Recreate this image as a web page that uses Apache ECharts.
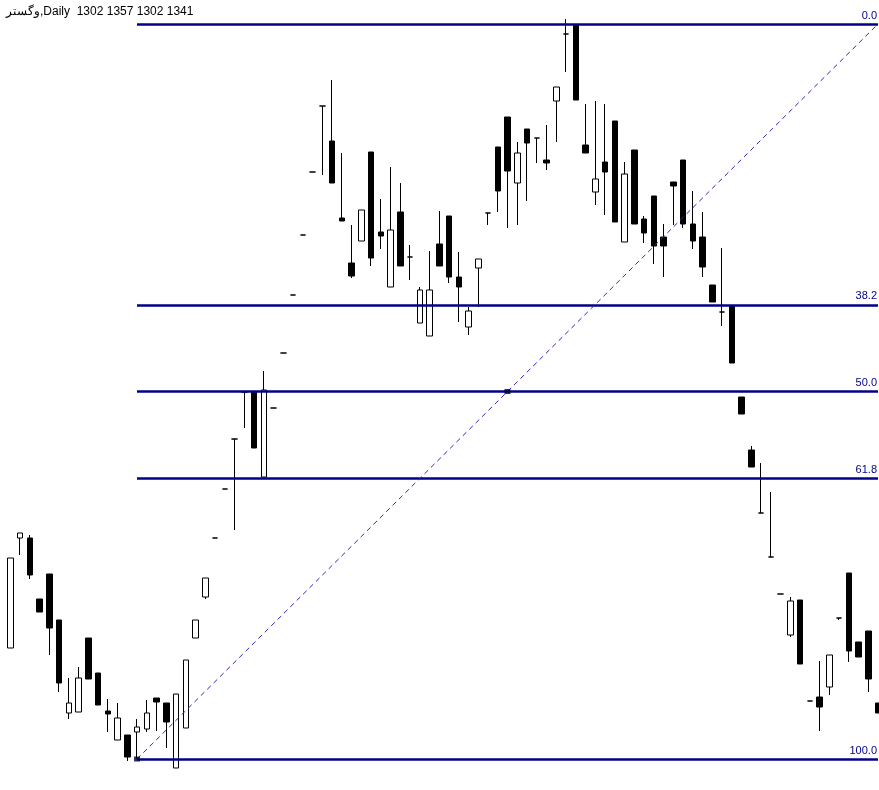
<!DOCTYPE html>
<html>
<head>
<meta charset="utf-8">
<script src="https://cdn.jsdelivr.net/npm/echarts@6/dist/echarts.min.js"></script>
<style>
  html, body { margin: 0; padding: 0; background: #fff; }
  #main { width: 879px; height: 790px; }
</style>
</head>
<body>
<div id="main"></div>
<script>
// daily bars
var open = [1111, 1221, 1221, 1160, 1185, 1139, 1046, 1047, 1121, 1086,
    1048, 1019, 1024, 1027, 1030, 1061, 1056, 991, 1031, 1121,
    1162, 1221, 1270, 1320, 1367, 1367, 1282, 1351, 1406, 1464,
    1524, 1587, 1653, 1618, 1541, 1496, 1518, 1607, 1527, 1472,
    1547, 1502, 1436, 1423, 1515, 1543, 1482, 1432, 1491, 1546,
    1612, 1642, 1576, 1630, 1621, 1599, 1658, 1725, 1734, 1614,
    1567, 1597, 1638, 1517, 1609, 1540, 1563, 1522, 1577, 1599,
    1535, 1522, 1474, 1447, 1453, 1362, 1309, 1246, 1202, 1165,
    1124, 1159, 1058, 1062, 1072, 1141, 1186, 1117, 1128, 1056];
var close = [1201, 1226, 1184, 1147, 1131, 1076, 1056, 1081, 1080, 1054,
    1045, 1041, 1002, 1032, 1046, 1057, 1037, 1065, 1099, 1139,
    1181, 1221, 1270, 1320, 1367, 1311, 1369, 1351, 1406, 1464,
    1524, 1587, 1653, 1576, 1538, 1483, 1549, 1501, 1523, 1529,
    1493, 1502, 1469, 1469, 1493, 1482, 1472, 1448, 1500, 1546,
    1568, 1588, 1606, 1616, 1621, 1596, 1672, 1725, 1659, 1606,
    1580, 1587, 1537, 1585, 1535, 1526, 1513, 1513, 1573, 1535,
    1518, 1492, 1457, 1447, 1396, 1345, 1292, 1246, 1202, 1165,
    1158, 1095, 1058, 1052, 1104, 1141, 1108, 1102, 1080, 1046];
var low = [1111, 1204, 1180, 1147, 1104, 1067, 1040, 1047, 1080, 1054,
    1027, 1019, 998, 1000, 1027, 1028, 1011, 991, 1031, 1121,
    1160, 1221, 1270, 1229, 1331, 1311, 1282, 1351, 1406, 1464,
    1524, 1587, 1584, 1576, 1538, 1481, 1518, 1493, 1510, 1472,
    1493, 1479, 1436, 1423, 1493, 1476, 1437, 1424, 1452, 1534,
    1547, 1531, 1534, 1558, 1596, 1589, 1617, 1687, 1659, 1606,
    1554, 1544, 1537, 1517, 1535, 1516, 1495, 1482, 1534, 1531,
    1510, 1482, 1457, 1433, 1396, 1345, 1292, 1246, 1202, 1165,
    1122, 1095, 1058, 1028, 1064, 1139, 1097, 1102, 1067, 1046];
var high = [1201, 1226, 1224, 1160, 1185, 1139, 1081, 1092, 1121, 1086,
    1060, 1056, 1024, 1040, 1059, 1061, 1056, 1065, 1099, 1139,
    1181, 1221, 1270, 1320, 1367, 1367, 1388, 1351, 1406, 1464,
    1524, 1587, 1653, 1679, 1606, 1534, 1549, 1607, 1560, 1592,
    1576, 1514, 1472, 1508, 1548, 1543, 1507, 1452, 1500, 1546,
    1612, 1642, 1617, 1630, 1621, 1634, 1672, 1740, 1735, 1655,
    1658, 1655, 1638, 1597, 1609, 1543, 1563, 1535, 1577, 1599,
    1568, 1547, 1474, 1511, 1453, 1362, 1313, 1296, 1267, 1165,
    1162, 1159, 1058, 1098, 1104, 1141, 1186, 1117, 1128, 1056];

// fibonacci anchors (bar index, price) and levels
var fibStart = [13, 1000];
var fibEnd = [89, 1735];
var fibLevels = [0.0, 38.2, 50.0, 61.8, 100.0];

var title = 'وگستر,Daily  1302 1357 1302 1341';

var days = [];
var candles = [];
for (var i = 0; i < open.length; i++) {
    days.push(String(i + 1));
    candles.push([open[i], close[i], low[i], high[i]]);
}

var range = fibEnd[1] - fibStart[1];
var fibLines = [];
for (var k = 0; k < fibLevels.length; k++) {
    var price = fibEnd[1] - range * fibLevels[k] / 100;
    fibLines.push([
        { coord: [fibStart[0], price], label: { formatter: fibLevels[k].toFixed(1) } },
        { coord: [fibEnd[0], price] }
    ]);
}
var midIdx = (fibStart[0] + fibEnd[0]) / 2;
var midPrice = (fibStart[1] + fibEnd[1]) / 2;

var myChart = echarts.init(document.getElementById('main'));

var option = {
    backgroundColor: '#fff',
    animation: false,
    graphic: [{
        type: 'text',
        left: 6,
        top: 6,
        style: {
            text: title,
            font: '12px "Liberation Sans", Arial, sans-serif',
            fill: '#000'
        }
    }],
    grid: {
        left: 5.375,
        top: 0,
        width: 877.5,
        height: 790,
        outerBoundsMode: 'none'
    },
    xAxis: {
        type: 'category',
        data: days,
        boundaryGap: true,
        show: false
    },
    yAxis: {
        type: 'value',
        min: 969,
        max: 1759,
        show: false,
        splitLine: { show: false }
    },
    series: [
        {
            type: 'candlestick',
            data: candles,
            barWidth: 6,
            clip: true,
            itemStyle: {
                color: '#ffffff',
                color0: '#000000',
                borderColor: '#000000',
                borderColor0: '#000000',
                borderColorDoji: '#000000',
                borderWidth: 1
            },
            markLine: {
                silent: true,
                symbol: ['none', 'none'],
                animation: false,
                lineStyle: {
                    color: '#000088',
                    width: 2.6,
                    type: 'solid'
                },
                label: {
                    show: true,
                    position: 'insideEndTop',
                    distance: [1, 3],
                    color: '#000088',
                    fontSize: 11,
                    fontFamily: '"Liberation Sans", Arial, sans-serif'
                },
                data: fibLines.concat([[
                    {
                        coord: fibStart,
                        lineStyle: { color: '#2a2ab8', width: 1, type: [5, 4] },
                        label: { show: false }
                    },
                    { coord: fibEnd }
                ]])
            }
        },
        {
            type: 'scatter',
            symbol: 'rect',
            symbolSize: [6, 5],
            itemStyle: { color: '#000030' },
            data: [fibStart, [midIdx, midPrice]],
            z: 5
        }
    ]
};

myChart.setOption(option);
</script>
</body>
</html>
